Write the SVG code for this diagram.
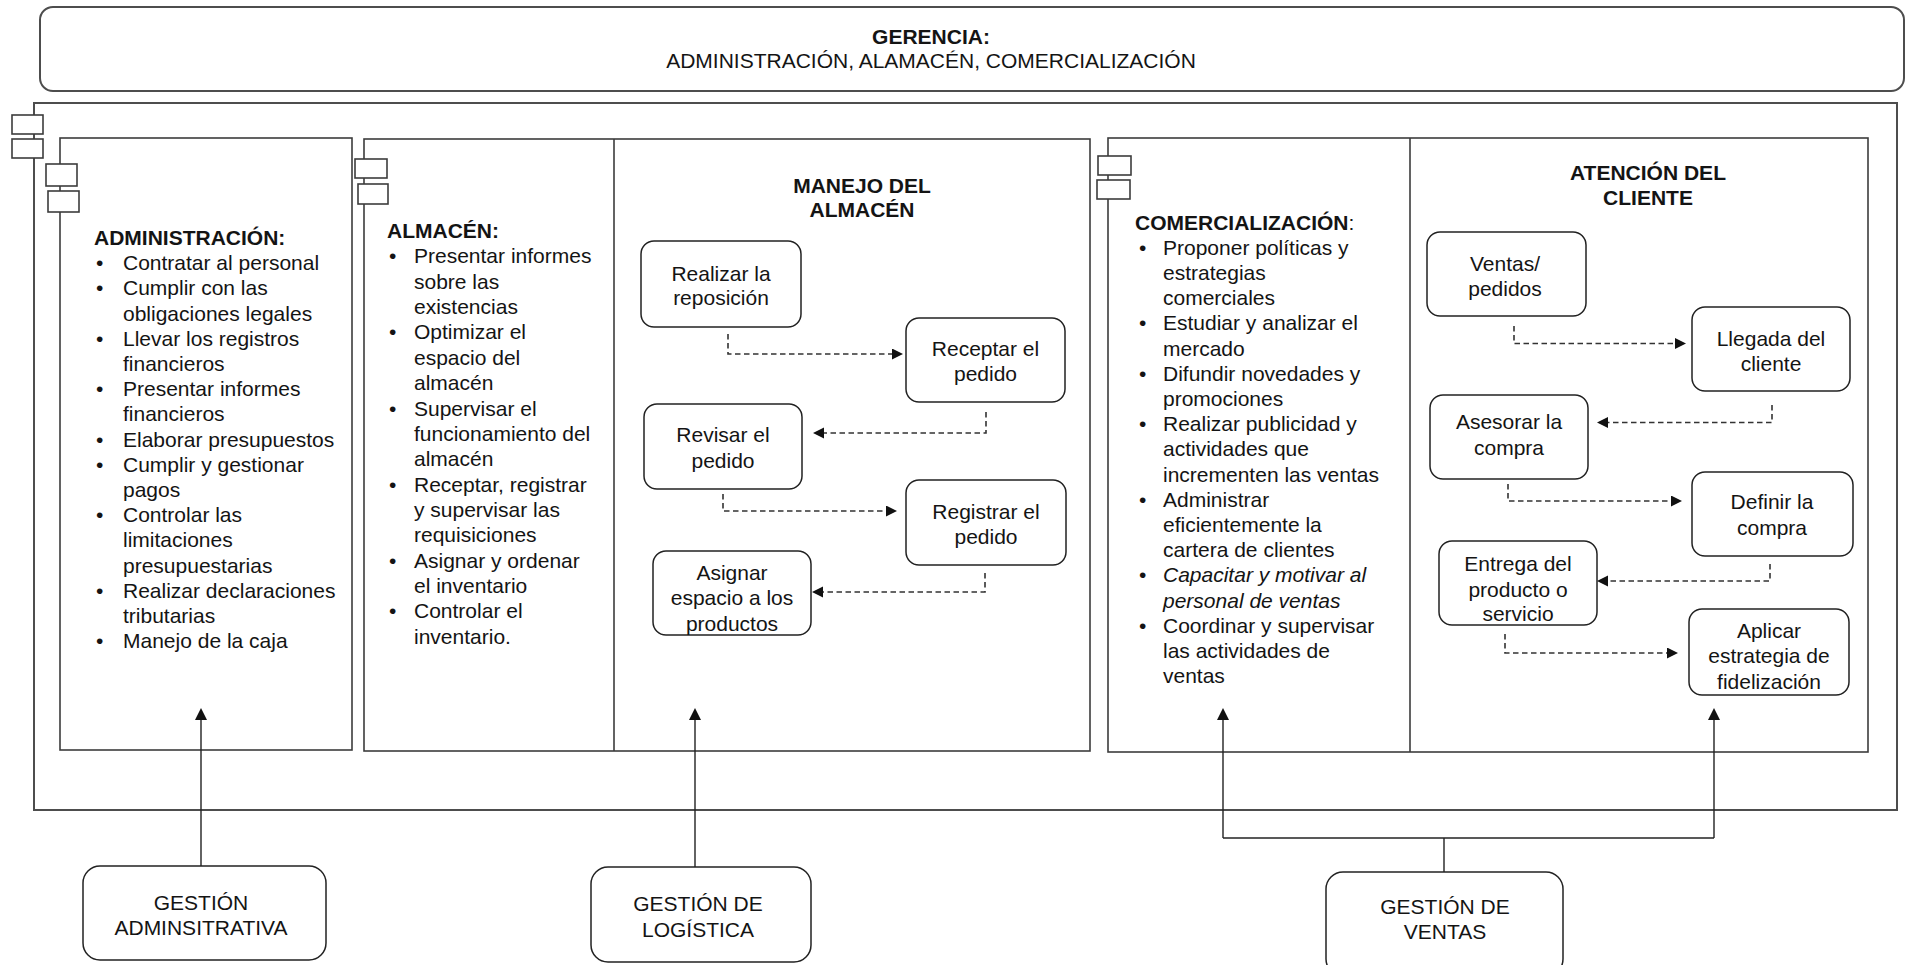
<svg xmlns="http://www.w3.org/2000/svg" width="1906" height="965" viewBox="0 0 1906 965">
<defs>
<style>
text{font-family:"Liberation Sans",Arial,sans-serif;font-size:21px;fill:#141414}
.b{font-weight:bold}
.i{font-style:italic}
.c{text-anchor:middle}
.frame{fill:none;stroke:#4d4d4d;stroke-width:2}
.panel{fill:none;stroke:#3c3c3c;stroke-width:1.6}
.icon{fill:#fff;stroke:#3c3c3c;stroke-width:1.6}
.node{fill:#fff;stroke:#222;stroke-width:1.5}
.dash{fill:none;stroke:#333;stroke-width:1.6;stroke-dasharray:5.5 3.5;marker-end:url(#ah)}
.solid{fill:none;stroke:#222;stroke-width:1.4}
</style>
<marker id="ah" markerUnits="userSpaceOnUse" markerWidth="12" markerHeight="12" refX="7" refY="5.5" orient="auto"><path d="M0,0 L11,5.5 L0,11 z" fill="#111"/></marker>
<marker id="au" markerUnits="userSpaceOnUse" markerWidth="14" markerHeight="14" refX="8" refY="6" orient="auto"><path d="M0,0 L12,6 L0,12 z" fill="#111"/></marker>
</defs>

<g id="gerencia">
<rect x="40" y="7" width="1864" height="84" rx="13" class="frame"/>
<text x="931" y="44" class="b c">GERENCIA:</text>
<text x="931" y="68" class="c">ADMINISTRACIÓN, ALAMACÉN, COMERCIALIZACIÓN</text>
</g>

<g id="contenedor">
<rect x="34" y="103" width="1863" height="707" class="frame"/>
<rect x="12" y="115" width="31" height="19" class="icon"/>
<rect x="12" y="139" width="31" height="19" class="icon"/>
</g>

<g id="administracion">
<rect x="60" y="138" width="292" height="612" class="panel"/>
<rect x="46" y="164" width="31" height="22" class="icon"/>
<rect x="48" y="191" width="31" height="21" class="icon"/>
<text class="b" x="94" y="245">ADMINISTRACIÓN:</text>
<text>
<tspan x="96" y="270.2">•</tspan><tspan x="123" y="270.2">Contratar al personal</tspan>
<tspan x="96" y="295.4">•</tspan><tspan x="123" y="295.4">Cumplir con las</tspan>
<tspan x="123" y="320.6">obligaciones legales</tspan>
<tspan x="96" y="345.8">•</tspan><tspan x="123" y="345.8">Llevar los registros</tspan>
<tspan x="123" y="371">financieros</tspan>
<tspan x="96" y="396.2">•</tspan><tspan x="123" y="396.2">Presentar informes</tspan>
<tspan x="123" y="421.4">financieros</tspan>
<tspan x="96" y="446.6">•</tspan><tspan x="123" y="446.6">Elaborar presupuestos</tspan>
<tspan x="96" y="471.8">•</tspan><tspan x="123" y="471.8">Cumplir y gestionar</tspan>
<tspan x="123" y="497">pagos</tspan>
<tspan x="96" y="522.2">•</tspan><tspan x="123" y="522.2">Controlar las</tspan>
<tspan x="123" y="547.4">limitaciones</tspan>
<tspan x="123" y="572.6">presupuestarias</tspan>
<tspan x="96" y="597.8">•</tspan><tspan x="123" y="597.8">Realizar declaraciones</tspan>
<tspan x="123" y="623">tributarias</tspan>
<tspan x="96" y="648.2">•</tspan><tspan x="123" y="648.2">Manejo de la caja</tspan>
</text>
</g>

<g id="almacen">
<rect x="364" y="139" width="726" height="612" class="panel"/>
<line x1="614" y1="139" x2="614" y2="751" class="panel"/>
<rect x="355" y="159" width="32" height="19" class="icon"/>
<rect x="358" y="184" width="30" height="20" class="icon"/>
<text class="b" x="387" y="238">ALMACÉN:</text>
<text>
<tspan x="389" y="263.4">•</tspan><tspan x="414" y="263.4">Presentar informes</tspan>
<tspan x="414" y="288.7">sobre las</tspan>
<tspan x="414" y="314">existencias</tspan>
<tspan x="389" y="339.4">•</tspan><tspan x="414" y="339.4">Optimizar el</tspan>
<tspan x="414" y="364.8">espacio del</tspan>
<tspan x="414" y="390.1">almacén</tspan>
<tspan x="389" y="415.5">•</tspan><tspan x="414" y="415.5">Supervisar el</tspan>
<tspan x="414" y="440.8">funcionamiento del</tspan>
<tspan x="414" y="466.2">almacén</tspan>
<tspan x="389" y="491.5">•</tspan><tspan x="414" y="491.5">Receptar, registrar</tspan>
<tspan x="414" y="516.9">y supervisar las</tspan>
<tspan x="414" y="542.2">requisiciones</tspan>
<tspan x="389" y="567.6">•</tspan><tspan x="414" y="567.6">Asignar y ordenar</tspan>
<tspan x="414" y="592.9">el inventario</tspan>
<tspan x="389" y="618.3">•</tspan><tspan x="414" y="618.3">Controlar el</tspan>
<tspan x="414" y="643.6">inventario.</tspan>
</text>
<text class="b c" x="862" y="193">MANEJO DEL</text>
<text class="b c" x="862" y="217">ALMACÉN</text>
</g>

<g id="realizar-reposicion">
<rect x="641" y="241" width="160" height="86" rx="13" class="node"/>
<text class="c" x="721" y="280.5">Realizar la</text>
<text class="c" x="721" y="305">reposición</text>
</g>
<g id="receptar-pedido">
<rect x="906" y="318" width="159" height="84" rx="13" class="node"/>
<text class="c" x="985.5" y="356">Receptar el</text>
<text class="c" x="985.5" y="380.5">pedido</text>
</g>
<g id="revisar-pedido">
<rect x="644" y="404" width="158" height="85" rx="13" class="node"/>
<text class="c" x="723" y="442">Revisar el</text>
<text class="c" x="723" y="467.5">pedido</text>
</g>
<g id="registrar-pedido">
<rect x="906" y="480" width="160" height="85" rx="13" class="node"/>
<text class="c" x="986" y="519">Registrar el</text>
<text class="c" x="986" y="544">pedido</text>
</g>
<g id="asignar-espacio">
<rect x="653" y="551" width="158" height="84" rx="13" class="node"/>
<text class="c" x="732" y="579.5">Asignar</text>
<text class="c" x="732" y="605">espacio a los</text>
<text class="c" x="732" y="630.5">productos</text>
</g>

<g id="comercializacion">
<rect x="1108" y="138" width="760" height="614" class="panel"/>
<line x1="1410" y1="138" x2="1410" y2="752" class="panel"/>
<rect x="1098" y="156" width="33" height="19" class="icon"/>
<rect x="1097" y="180" width="33" height="19" class="icon"/>
<text x="1135" y="229.5"><tspan class="b">COMERCIALIZACIÓN</tspan>:</text>
<text>
<tspan x="1139" y="254.7">•</tspan><tspan x="1163" y="254.7">Proponer políticas y</tspan>
<tspan x="1163" y="279.9">estrategias</tspan>
<tspan x="1163" y="305.1">comerciales</tspan>
<tspan x="1139" y="330.3">•</tspan><tspan x="1163" y="330.3">Estudiar y analizar el</tspan>
<tspan x="1163" y="355.5">mercado</tspan>
<tspan x="1139" y="380.7">•</tspan><tspan x="1163" y="380.7">Difundir novedades y</tspan>
<tspan x="1163" y="405.9">promociones</tspan>
<tspan x="1139" y="431.1">•</tspan><tspan x="1163" y="431.1">Realizar publicidad y</tspan>
<tspan x="1163" y="456.3">actividades que</tspan>
<tspan x="1163" y="481.5">incrementen las ventas</tspan>
<tspan x="1139" y="506.7">•</tspan><tspan x="1163" y="506.7">Administrar</tspan>
<tspan x="1163" y="531.9">eficientemente la</tspan>
<tspan x="1163" y="557.1">cartera de clientes</tspan>
<tspan x="1139" y="582.3">•</tspan><tspan x="1163" y="582.3" class="i">Capacitar y motivar al</tspan>
<tspan x="1163" y="607.5" class="i">personal de ventas</tspan>
<tspan x="1139" y="632.7">•</tspan><tspan x="1163" y="632.7">Coordinar y supervisar</tspan>
<tspan x="1163" y="657.9">las actividades de</tspan>
<tspan x="1163" y="683.1">ventas</tspan>
</text>
<text class="b c" x="1648" y="180">ATENCIÓN DEL</text>
<text class="b c" x="1648" y="205">CLIENTE</text>
</g>

<g id="ventas-pedidos">
<rect x="1427" y="232" width="159" height="84" rx="13" class="node"/>
<text class="c" x="1505" y="271">Ventas/</text>
<text class="c" x="1505" y="296">pedidos</text>
</g>
<g id="llegada-cliente">
<rect x="1692" y="307" width="158" height="84" rx="13" class="node"/>
<text class="c" x="1771" y="346">Llegada del</text>
<text class="c" x="1771" y="370.5">cliente</text>
</g>
<g id="asesorar-compra">
<rect x="1430" y="395" width="158" height="84" rx="13" class="node"/>
<text class="c" x="1509" y="429">Asesorar la</text>
<text class="c" x="1509" y="454.5">compra</text>
</g>
<g id="definir-compra">
<rect x="1692" y="472" width="161" height="84" rx="13" class="node"/>
<text class="c" x="1772" y="509">Definir la</text>
<text class="c" x="1772" y="534.5">compra</text>
</g>
<g id="entrega-producto">
<rect x="1439" y="541" width="158" height="84" rx="13" class="node"/>
<text class="c" x="1518" y="571">Entrega del</text>
<text class="c" x="1518" y="596.5">producto o</text>
<text class="c" x="1518" y="621">servicio</text>
</g>
<g id="aplicar-estrategia">
<rect x="1689" y="609" width="160" height="86" rx="13" class="node"/>
<text class="c" x="1769" y="638">Aplicar</text>
<text class="c" x="1769" y="663">estrategia de</text>
<text class="c" x="1769" y="689">fidelización</text>
</g>

<g id="gestion-administrativa">
<rect x="83" y="866" width="243" height="94" rx="17" class="node"/>
<text class="c" x="201" y="910">GESTIÓN</text>
<text class="c" x="201" y="935">ADMINSITRATIVA</text>
</g>
<g id="gestion-logistica">
<rect x="591" y="867" width="220" height="95" rx="17" class="node"/>
<text class="c" x="698" y="911">GESTIÓN DE</text>
<text class="c" x="698" y="937">LOGÍSTICA</text>
</g>
<g id="gestion-ventas">
<rect x="1326" y="872" width="237" height="104" rx="17" class="node"/>
<text class="c" x="1445" y="913.5">GESTIÓN DE</text>
<text class="c" x="1445" y="938.5">VENTAS</text>
</g>

<g id="conectores">
<path class="dash" d="M728,334 V354 H899"/>
<path class="dash" d="M986,412 V433 H817"/>
<path class="dash" d="M723,494 V511 H893"/>
<path class="dash" d="M985,573 V592 H816"/>
<path class="dash" d="M1514,326 V343.5 H1682"/>
<path class="dash" d="M1772,405 V422.5 H1601"/>
<path class="dash" d="M1508,484 V501 H1678"/>
<path class="dash" d="M1770,564 V581 H1601"/>
<path class="dash" d="M1505,634 V653 H1674"/>
<path class="solid" d="M201,866 V712" marker-end="url(#au)"/>
<path class="solid" d="M695,867 V712" marker-end="url(#au)"/>
<path class="solid" d="M1444,872 V838"/>
<path class="solid" d="M1223,838 H1714"/>
<path class="solid" d="M1223,838 V712" marker-end="url(#au)"/>
<path class="solid" d="M1714,838 V712" marker-end="url(#au)"/>
</g>
</svg>
